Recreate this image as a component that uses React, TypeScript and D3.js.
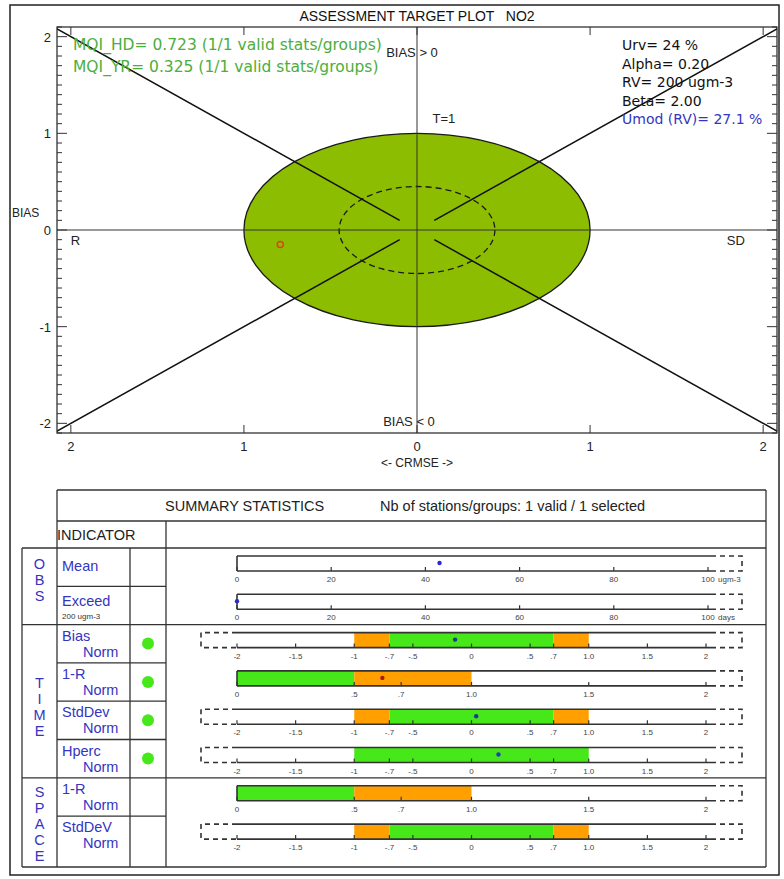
import React from "react";
import * as d3 from "d3";

// ---------- data ----------
const plotTitle = "ASSESSMENT TARGET PLOT   NO2";
const pointCRMSE = [-0.79];
const pointBias = [-0.15];
const targetRadius = [1];
const innerRadius = [0.45];
const axisTicks = [-2, -1, 0, 1, 2];
const mqiLabels = [
  "MQI_HD= 0.723 (1/1 valid stats/groups)",
  "MQI_YR= 0.325 (1/1 valid stats/groups)",
];
const paramLabels = ["Urv= 24 %", "Alpha= 0.20", "RV= 200 ugm-3", "Beta= 2.00"];
const umodLabel = "Umod (RV)= 27.1 %";

const summaryTitle = "SUMMARY STATISTICS";
const summaryInfo = "Nb of stations/groups: 1 valid / 1 selected";
const groupNames = ["OBS", "TIME", "SPACE"];
const groupSizes = [2, 4, 2];
const indicatorNames = ["Mean", "Exceed", "Bias", "1-R", "StdDev", "Hperc", "1-R", "StdDeV"];
const indicatorSubs = ["", "200 ugm-3", "Norm", "Norm", "Norm", "Norm", "Norm", "Norm"];
const rowKinds = ["obs", "obs", "sym", "pos", "sym", "symG", "pos", "sym"];
const rowValues: (number | null)[] = [43, 0, -0.14, 0.62, 0.04, 0.23, null, null];
const rowPointColors = ["#2a2ad0", "#2a2ad0", "#1b3a8c", "#b01818", "#1b3a8c", "#2040b0", "", ""];
const rowUnits = ["ugm-3", "days", "", "", "", "", "", ""];
const rowStatus = [false, false, true, true, true, true, false, false];

const obsTicks = [0, 20, 40, 60, 80, 100];
const obsTickLabels = ["0", "20", "40", "60", "80", "100"];
const symTicks = [-2, -1.5, -1, -0.7, -0.5, 0, 0.5, 0.7, 1, 1.5, 2];
const symTickLabels = ["-2", "-1.5", "-1", "-.7", "-.5", "0", ".5", ".7", "1.0", "1.5", "2"];
const posTicks = [0, 0.5, 0.7, 1, 1.5, 2];
const posTickLabels = ["0", ".5", ".7", "1.0", "1.5", "2"];

const symZones = [
  { from: -1, to: -0.7, c: "orange" },
  { from: -0.7, to: 0.7, c: "green" },
  { from: 0.7, to: 1, c: "orange" },
];
const symGZones = [{ from: -1, to: 1, c: "green" }];
const posZones = [
  { from: 0, to: 0.5, c: "green" },
  { from: 0.5, to: 1, c: "orange" },
];

// ---------- styles ----------
const SANS = "'Liberation Sans', Arial, sans-serif";
const ROUND = "'DejaVu Sans', Verdana, sans-serif";
const GREEN_TXT = "#4cae3c";
const BLUE_TXT = "#3535c0";
const ELLIPSE_FILL = "#8cbd00";
const BAR_GREEN = "#46e81a";
const BAR_ORANGE = "#ffa000";
const W = 784, H = 879;

export default function App() {
  // target plot scales
  const x = d3.scaleLinear().domain([-2.08, 2.08]).range([57, 777]);
  const y = d3.scaleLinear().domain([-2.1, 2.1]).range([433, 27]);
  const [px0, px1] = x.range();
  const [py1, py0] = y.range();

  const minorY = d3.range(-21, 22).map((i) => i / 10);

  const diagonals: [number, number][][] = [];
  [-1, 1].forEach((sx) =>
    [-1, 1].forEach((sy) => diagonals.push([[sx * 0.1, sy * 0.1], [sx * 2.4, sy * 2.4]]))
  );

  // table layout
  const tL = 57, tR = 766, gL = 22, nameR = 130, statR = 166;
  const titleTop = 490, indTop = 521, bodyTop = 548, rowH = 38.3, bottom = 867;
  const rowTops = indicatorNames.map((_, i) => bodyTop + i * rowH);
  const groupStarts = groupSizes.map((_, g) => d3.sum(groupSizes.slice(0, g)));
  const groupOffsets = [-6, 6, 2];

  const barX0 = 237, barX1 = 711, dashR = 742, dashL = 201;
  const barH = 15;

  const scaleFor = (kind: string) =>
    kind === "obs"
      ? d3.scaleLinear().domain([0, 100]).range([237, 708])
      : kind === "pos"
      ? d3.scaleLinear().domain([0, 2]).range([237, 706])
      : d3.scaleLinear().domain([-2, 2]).range([237, 706]);

  const ticksFor = (kind: string) =>
    kind === "obs" ? [obsTicks, obsTickLabels] : kind === "pos" ? [posTicks, posTickLabels] : [symTicks, symTickLabels];
  const zonesFor = (kind: string) =>
    kind === "sym" ? symZones : kind === "symG" ? symGZones : kind === "pos" ? posZones : [];

  return (
    <svg width={W} height={H} style={{ display: "block", position: "absolute", left: 0, top: 0, background: "#fff" }}>
      <rect x={0} y={0} width={W} height={H} fill="#fff" />
      {/* outer frame */}
      <rect x={10} y={5} width={769} height={870} fill="none" stroke="#222" strokeWidth={1.5} />

      {/* title */}
      <text x={417} y={21} textAnchor="middle" fontFamily={SANS} fontSize={14} fill="#111" style={{ whiteSpace: "pre" }}>
        {plotTitle}
      </text>

      <defs>
        <clipPath id="plotClip">
          <rect x={px0} y={py0} width={px1 - px0} height={py1 - py0} />
        </clipPath>
      </defs>

      {/* target ellipse */}
      <ellipse
        cx={x(0)}
        cy={y(0)}
        rx={x(targetRadius[0]) - x(0)}
        ry={y(0) - y(targetRadius[0])}
        fill={ELLIPSE_FILL}
        stroke="#1a1a1a"
        strokeWidth={1.3}
      />
      <ellipse
        cx={x(0)}
        cy={y(0)}
        rx={x(innerRadius[0]) - x(0)}
        ry={y(0) - y(innerRadius[0])}
        fill="none"
        stroke="#1a1a1a"
        strokeWidth={1.3}
        strokeDasharray="6,4"
      />

      {/* center axes */}
      <line x1={px0} x2={px1} y1={y(0)} y2={y(0)} stroke="#333" strokeWidth={1} />
      <line x1={x(0)} x2={x(0)} y1={py0} y2={py1} stroke="#333" strokeWidth={1} />

      {/* diagonals */}
      <g clipPath="url(#plotClip)">
        {diagonals.map((d, i) => (
          <line key={i} x1={x(d[0][0])} y1={y(d[0][1])} x2={x(d[1][0])} y2={y(d[1][1])} stroke="#111" strokeWidth={1.5} />
        ))}
      </g>

      {/* plot frame */}
      <rect x={px0} y={py0} width={px1 - px0} height={py1 - py0} fill="none" stroke="#222" strokeWidth={1.2} />

      {/* y ticks */}
      {minorY.map((v, i) => {
        const major = Math.abs(v - Math.round(v)) < 1e-6;
        const len = major ? 10 : 5;
        return (
          <g key={i}>
            <line x1={px0} x2={px0 + len} y1={y(v)} y2={y(v)} stroke="#333" strokeWidth={1} />
            <line x1={px1} x2={px1 - len} y1={y(v)} y2={y(v)} stroke="#333" strokeWidth={1} />
          </g>
        );
      })}
      {axisTicks.map((v) => (
        <g key={"x" + v}>
          <line x1={x(v)} x2={x(v)} y1={py1} y2={py1 - 8} stroke="#333" strokeWidth={1} />
          <line x1={x(v)} x2={x(v)} y1={py0} y2={py0 + 8} stroke="#333" strokeWidth={1} />
          <text x={x(v)} y={py1 + 18} textAnchor="middle" fontFamily={SANS} fontSize={13} fill="#222">
            {Math.abs(v)}
          </text>
          <text x={px0 - 6} y={y(v) + 5} textAnchor="end" fontFamily={SANS} fontSize={13} fill="#222">
            {v}
          </text>
        </g>
      ))}
      <text x={x(0)} y={py1 + 34} textAnchor="middle" fontFamily={SANS} fontSize={12} fill="#222">
        {"<- CRMSE ->"}
      </text>
      <text x={12} y={y(0) - 13} fontFamily={SANS} fontSize={12} fill="#222">BIAS</text>
      <text x={x(-2.0)} y={y(-0.1) + 5} fontFamily={SANS} fontSize={13} fill="#222">R</text>
      <text x={x(1.79)} y={y(-0.1) + 5} fontFamily={SANS} fontSize={13} fill="#222">SD</text>
      <text x={x(0) - 5} y={y(1.84) + 5} textAnchor="middle" fontFamily={SANS} fontSize={13} fill="#222">BIAS &gt; 0</text>
      <text x={x(0) - 8} y={y(-1.98) + 5} textAnchor="middle" fontFamily={SANS} fontSize={13} fill="#222">BIAS &lt; 0</text>
      <text x={x(0.09)} y={y(1.11)} fontFamily={SANS} fontSize={13} fill="#222">T=1</text>

      {/* point */}
      {pointCRMSE.map((v, i) => (
        <circle key={i} cx={x(v)} cy={y(pointBias[i])} r={3} fill="none" stroke="#e0401a" strokeWidth={1.5} />
      ))}

      {/* MQI labels */}
      {mqiLabels.map((t, i) => (
        <text key={t} x={73} y={50 + i * 22} fontFamily={ROUND} fontSize={15.5} fill={GREEN_TXT}>{t}</text>
      ))}
      {paramLabels.map((t, i) => (
        <text key={t} x={622} y={50 + i * 18.5} fontFamily={ROUND} fontSize={14} fill="#111">{t}</text>
      ))}
      <text x={622} y={50 + paramLabels.length * 18.5} fontFamily={ROUND} fontSize={14} fill={BLUE_TXT}>{umodLabel}</text>

      {/* ---------- summary table ---------- */}
      <g stroke="#333" strokeWidth={1.3} fill="none">
        <line x1={tL} x2={tR} y1={titleTop} y2={titleTop} />
        <line x1={tL} x2={tR} y1={indTop} y2={indTop} />
        <line x1={gL} x2={tR} y1={bodyTop} y2={bodyTop} />
        <line x1={gL} x2={tR} y1={bottom} y2={bottom} />
        <line x1={tL} x2={tL} y1={titleTop} y2={bottom} />
        <line x1={tR} x2={tR} y1={titleTop} y2={bottom} />
        <line x1={statR} x2={statR} y1={indTop} y2={bottom} />
        <line x1={gL} x2={gL} y1={bodyTop} y2={bottom} />
        <line x1={nameR} x2={nameR} y1={bodyTop} y2={bottom} />
        {rowTops.map((t, i) =>
          i === 0 ? null : groupStarts.includes(i) ? (
            <line key={i} x1={gL} x2={tR} y1={t} y2={t} />
          ) : (
            <line key={i} x1={tL} x2={statR} y1={t} y2={t} />
          )
        )}
      </g>
      <text x={165} y={511} fontFamily={SANS} fontSize={14.5} fill="#222">{summaryTitle}</text>
      <text x={380} y={511} fontFamily={SANS} fontSize={14.5} fill="#222">{summaryInfo}</text>
      <text x={57} y={540} fontFamily={SANS} fontSize={14.5} fill="#222">INDICATOR</text>

      {/* group labels */}
      {groupNames.map((g, gi) => {
        const top = rowTops[groupStarts[gi]];
        const end = groupStarts[gi] + groupSizes[gi];
        const bot = end < rowTops.length ? rowTops[end] : bottom;
        const mid = (top + bot) / 2 + groupOffsets[gi];
        const step = 16;
        const letters = g.split("");
        return letters.map((l, li) => (
          <text
            key={g + li}
            x={(gL + tL) / 2}
            y={mid + (li - (letters.length - 1) / 2) * step + 5}
            textAnchor="middle"
            fontFamily={SANS}
            fontSize={14.5}
            fill={BLUE_TXT}
          >
            {l}
          </text>
        ));
      })}

      {/* rows */}
      {indicatorNames.map((name, i) => {
        const top = rowTops[i];
        const kind = rowKinds[i];
        const s = scaleFor(kind);
        const [tv, tl] = ticksFor(kind) as [number[], string[]];
        const zones = zonesFor(kind);
        const bt = top + 8;
        const bb = bt + barH;
        const leftDashed = kind === "sym" || kind === "symG";
        const v = rowValues[i];
        return (
          <g key={i}>
            {i < 2 ? (
              <>
                <text x={62} y={top + (i === 0 ? 23 : 20)} fontFamily={SANS} fontSize={14.5} fill={BLUE_TXT}>{name}</text>
                {indicatorSubs[i] && (
                  <text x={62} y={top + 33} fontFamily={SANS} fontSize={8} fill="#333">{indicatorSubs[i]}</text>
                )}
              </>
            ) : (
              <>
                <text x={62} y={top + 16} fontFamily={SANS} fontSize={14.5} fill={BLUE_TXT}>{name}</text>
                <text x={83} y={top + 32} fontFamily={SANS} fontSize={14.5} fill={BLUE_TXT}>{indicatorSubs[i]}</text>
              </>
            )}
            {rowStatus[i] && <circle cx={(nameR + statR) / 2} cy={top + 19} r={6} fill={BAR_GREEN} />}

            {/* zones */}
            {zones.map((z, zi) => (
              <rect
                key={zi}
                x={s(z.from)}
                y={bt}
                width={s(z.to) - s(z.from)}
                height={barH}
                fill={z.c === "green" ? BAR_GREEN : BAR_ORANGE}
              />
            ))}
            {/* solid bar outline */}
            <g stroke="#333" strokeWidth={1.6}>
              <line x1={barX0} x2={barX1} y1={bt} y2={bt} />
              <line x1={barX0} x2={barX1} y1={bb} y2={bb} />
              {!leftDashed && <line x1={barX0} x2={barX0} y1={bt} y2={bb} />}
            </g>
            <g stroke="#333" strokeWidth={1.6} strokeDasharray="5,4" fill="none">
              <path d={`M${barX1},${bt}H${dashR}V${bb}H${barX1}`} />
              {leftDashed && <path d={`M${barX0},${bt}H${dashL}V${bb}H${barX0}`} />}
            </g>
            {/* ticks */}
            {tv.map((t, ti) => (
              <g key={ti}>
                <line x1={s(t)} x2={s(t)} y1={bb} y2={bb - 4} stroke="#333" strokeWidth={1.2} />
                <text x={s(t)} y={bb + 11} textAnchor="middle" fontFamily={SANS} fontSize={8} fill="#444">{tl[ti]}</text>
              </g>
            ))}
            {rowUnits[i] && (
              <text x={718} y={bb + 11} fontFamily={SANS} fontSize={8} fill="#444">{rowUnits[i]}</text>
            )}
            {v !== null && (
              <circle cx={s(v)} cy={bt + 7} r={2.2} fill={rowPointColors[i]} />
            )}
          </g>
        );
      })}
    </svg>
  );
}
